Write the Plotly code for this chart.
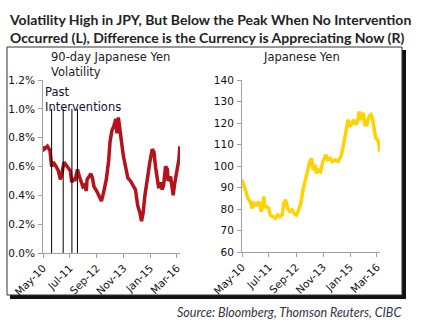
import plotly.graph_objects as go

# ---------------- data ----------------
vol_dates = ["2010-05-01","2010-05-20","2010-07-10","2010-08-20","2010-09-15","2010-10-12","2010-11-25",
             "2011-01-01","2011-02-01","2011-02-20","2011-04-01","2011-05-01","2011-06-10","2011-07-10",
             "2011-08-01","2011-08-25","2011-09-20","2011-11-01","2011-12-01","2012-01-25","2012-02-20",
             "2012-03-20","2012-04-01","2012-05-10","2012-06-01","2012-06-25","2012-07-20","2012-09-01",
             "2012-10-20","2012-11-15","2012-12-20","2013-02-01","2013-03-10","2013-04-01","2013-05-01",
             "2013-06-01","2013-07-01","2013-07-20","2013-08-12","2013-09-12","2013-10-10","2013-11-01",
             "2013-12-01","2014-01-10","2014-02-20","2014-04-01","2014-05-10","2014-06-15","2014-07-20",
             "2014-08-15","2014-09-10","2014-10-05","2014-11-12","2014-12-25","2015-02-01","2015-03-01",
             "2015-03-25","2015-04-20","2015-05-15","2015-06-10","2015-07-10","2015-08-01","2015-09-01",
             "2015-10-01","2015-10-10","2015-11-20","2016-01-01","2016-01-20","2016-02-25","2016-03-15",
             "2016-04-01","2016-04-15"]
vol_values = [0.74,0.72,0.74,0.71,0.60,0.63,0.60,
              0.57,0.51,0.54,0.63,0.61,0.58,0.57,
              0.49,0.52,0.50,0.58,0.53,0.46,0.47,
              0.43,0.51,0.53,0.55,0.52,0.46,0.43,
              0.38,0.36,0.42,0.51,0.64,0.77,0.85,
              0.88,0.93,0.83,0.94,0.81,0.74,0.67,
              0.61,0.52,0.50,0.47,0.44,0.33,0.28,
              0.22,0.28,0.39,0.52,0.63,0.72,0.70,
              0.60,0.53,0.45,0.49,0.44,0.47,0.60,
              0.58,0.50,0.53,0.40,0.47,0.58,0.63,
              0.65,0.74]

jpy_dates = ["2010-05-01","2010-06-01","2010-07-01","2010-08-01","2010-09-10","2010-10-05","2010-11-05",
             "2010-12-15","2011-01-20","2011-02-15","2011-03-01","2011-04-12","2011-04-25","2011-05-20",
             "2011-06-27","2011-07-20","2011-09-01","2011-10-10","2011-11-12","2011-12-20","2012-01-25",
             "2012-02-20","2012-03-20","2012-04-20","2012-05-25","2012-07-01","2012-08-01","2012-09-05",
             "2012-10-01","2012-11-15","2012-12-20","2013-01-20","2013-02-12","2013-03-10","2013-04-05",
             "2013-05-01","2013-05-28","2013-06-25","2013-07-20","2013-08-15","2013-09-20","2013-10-30",
             "2013-12-15","2014-01-12","2014-02-20","2014-03-25","2014-05-05","2014-06-28","2014-08-10",
             "2014-09-15","2014-10-12","2014-11-05","2014-12-02","2015-01-01","2015-01-25","2015-03-01",
             "2015-03-28","2015-05-01","2015-05-25","2015-06-20","2015-07-12","2015-08-03","2015-08-25",
             "2015-09-25","2015-10-27","2015-11-27","2015-12-25","2016-01-18","2016-02-10","2016-03-12",
             "2016-04-01","2016-04-15"]
jpy_values = [93.5,91.2,88.1,85.0,83.4,80.3,82.7,
              81.9,83.4,81.1,78.8,85.8,81.1,81.1,
              80.3,77.2,76.5,75.7,77.2,76.5,77.2,
              82.7,84.2,80.3,78.8,79.6,78.0,77.2,
              78.8,82.7,88.9,92.8,95.9,99.8,102.1,
              103.6,98.2,100.5,96.6,98.2,97.4,102.1,
              105.2,102.9,103.6,102.1,102.9,102.1,104.4,
              109.1,113.7,119.2,121.5,118.4,119.9,121.5,
              119.2,120.7,125.4,121.5,124.6,123.8,119.2,
              119.2,123.0,123.8,121.5,117.6,113.0,112.2,
              110.6,106.7]

intervention_dates = ["2010-09-15", "2011-03-18", "2011-08-04", "2011-10-31"]

tick_dates = ["2010-05-01","2011-07-01","2012-09-01","2013-11-01","2015-01-01","2016-03-01"]
tick_labels = ["May-10","Jul-11","Sep-12","Nov-13","Jan-15","Mar-16"]

vol_ticks = [0, 0.2, 0.4, 0.6, 0.8, 1.0, 1.2]
vol_tick_labels = ["0.0%","0.2%","0.4%","0.6%","0.8%","1.0%","1.2%"]
jpy_ticks = [60, 70, 80, 90, 100, 110, 120, 130, 140]

# ---------------- figure ----------------
W, H = 443, 329
def px(x): return x / W
def py(y): return 1 - y / H

fig = go.Figure()
fig.add_trace(go.Scatter(x=vol_dates, y=vol_values, mode="lines",
                         line=dict(color="#B5121B", width=3.5), xaxis="x", yaxis="y",
                         showlegend=False, hoverinfo="skip"))
fig.add_trace(go.Scatter(x=jpy_dates, y=jpy_values, mode="lines",
                         line=dict(color="#FFD200", width=3.5), xaxis="x2", yaxis="y2",
                         showlegend=False, hoverinfo="skip"))

tickfont = dict(family="DejaVu Sans", size=10.5, color="#111111")
axis_common = dict(showgrid=False, zeroline=False, showline=True, linecolor="#A0A0A0",
                   linewidth=1, ticks="outside", ticklen=4, tickcolor="#A0A0A0",
                   tickfont=tickfont, automargin=False)
xrange = ["2010-05-01", "2016-04-18"]

fig.update_layout(
    width=W, height=H, margin=dict(l=0, r=0, t=0, b=0, autoexpand=False),
    paper_bgcolor="white", plot_bgcolor="rgba(0,0,0,0)",
    xaxis=dict(domain=[px(43), px(180)], type="date", range=xrange,
               tickvals=tick_dates, ticktext=tick_labels, tickangle=-45,
               anchor="y", **axis_common),
    yaxis=dict(domain=[py(253), py(80)], range=[0, 1.2], tickvals=vol_ticks,
               ticktext=vol_tick_labels, anchor="x", ticklabelstandoff=1, **axis_common),
    xaxis2=dict(domain=[px(242), px(380)], type="date", range=xrange,
                tickvals=tick_dates, ticktext=tick_labels, tickangle=-45,
                anchor="y2", **axis_common),
    yaxis2=dict(domain=[py(252), py(80)], range=[60, 140], tickvals=jpy_ticks,
                anchor="x2", ticklabelstandoff=1, **axis_common),
)

shapes = [
    # shadow and frame
    dict(type="rect", xref="paper", yref="paper", x0=px(10), x1=px(406), y0=py(299), y1=py(50),
         fillcolor="#111111", line=dict(width=0), layer="below"),
    dict(type="rect", xref="paper", yref="paper", x0=px(7), x1=px(402), y0=py(295), y1=py(47),
         fillcolor="white", line=dict(color="#333333", width=1), layer="below"),
]
for d in intervention_dates:
    shapes.append(dict(type="line", xref="x", yref="y", x0=d, x1=d, y0=0, y1=1.0,
                       line=dict(color="black", width=1)))
fig.update_layout(shapes=shapes)

labfont = dict(family="DejaVu Sans", size=11.5, color="#222222")
ann = [
    dict(text="<b>Volatility High in JPY, But Below the Peak When No Intervention<br>"
              "Occurred (L), Difference is the Currency is Appreciating Now (R)</b>",
         x=px(7), y=py(9), xanchor="left", yanchor="top", align="left",
         font=dict(family="Lato", size=14, color="#222222")),
    dict(text="90-day Japanese Yen<br>Volatility", x=px(49), y=py(48), xanchor="left",
         yanchor="top", align="left", font=labfont),
    dict(text="Past<br>Interventions", x=px(43), y=py(83), xanchor="left",
         yanchor="top", align="left", font=dict(family="DejaVu Sans", size=11.5, color="#111133")),
    dict(text="Japanese Yen", x=px(301), y=py(48), xanchor="center",
         yanchor="top", align="center", font=labfont),
    dict(text="<i>Source: Bloomberg, Thomson Reuters, CIBC</i>", x=px(403), y=py(303),
         xanchor="right", yanchor="top", align="right",
         font=dict(family="Lato", size=12.5, color="#333344")),
]
for a in ann:
    a.update(xref="paper", yref="paper", showarrow=False)
fig.update_layout(annotations=ann)

fig.write_html("out.html")
